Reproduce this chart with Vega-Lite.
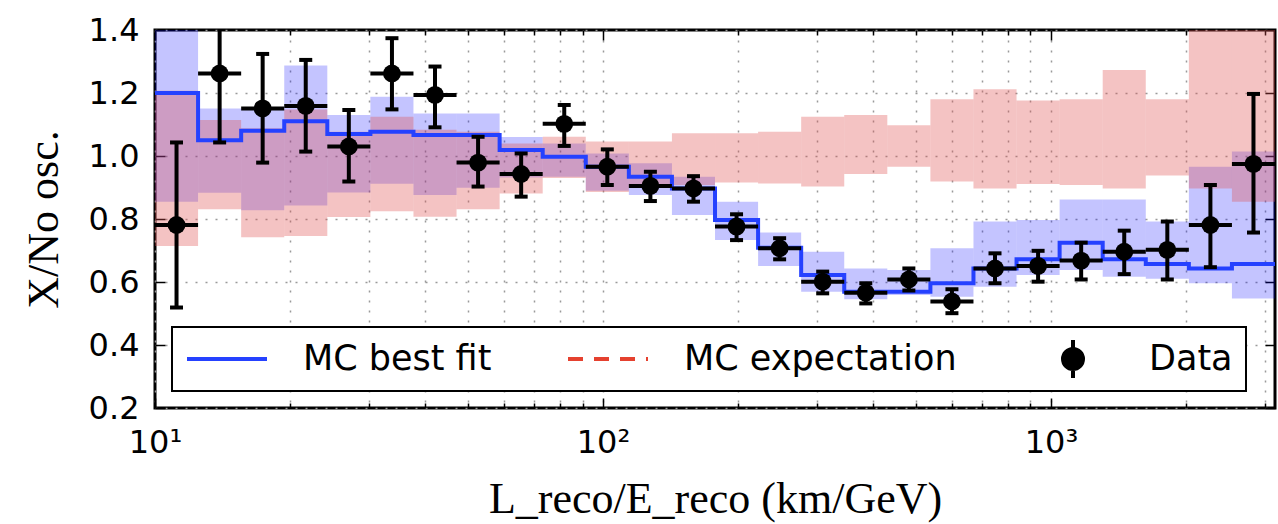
{
  "$schema": "https://vega.github.io/schema/vega-lite/v6.json",
  "autosize": {"type": "none"},
  "padding": {"left": 155, "top": 30, "right": 3, "bottom": 116},
  "width": 1120,
  "height": 378,
  "background": "white",
  "config": {
    "view": {"stroke": "black", "strokeWidth": 3},
    "axis": {
      "domain": false,
      "grid": true,
      "gridColor": "#9a9a9a",
      "gridDash": [2, 8],
      "gridWidth": 1.5,
      "tickColor": "black",
      "tickWidth": 1.5,
      "labelFont": "DejaVu Sans",
      "labelFontSize": 32,
      "labelColor": "black",
      "titleFont": "Liberation Serif",
      "titleFontSize": 44,
      "titleFontWeight": "normal",
      "titleColor": "black"
    }
  },
  "datasets": {
    "bins": [
      {"lo": 10, "hi": 12.478, "c": 11.17, "bL": 0.855, "bU": 1.45, "rL": 0.714, "rU": 1.207, "d": 0.781, "dlo": 0.519, "dhi": 1.043},
      {"lo": 12.478, "hi": 15.571, "c": 13.94, "bL": 0.883, "bU": 1.151, "rL": 0.831, "rU": 1.114, "d": 1.262, "dlo": 1.043, "dhi": 1.42},
      {"lo": 15.571, "hi": 19.43, "c": 17.39, "bL": 0.828, "bU": 1.151, "rL": 0.742, "rU": 1.088, "d": 1.151, "dlo": 0.979, "dhi": 1.324},
      {"lo": 19.43, "hi": 24.245, "c": 21.7, "bL": 0.843, "bU": 1.287, "rL": 0.746, "rU": 1.148, "d": 1.159, "dlo": 1.014, "dhi": 1.305},
      {"lo": 24.245, "hi": 30.254, "c": 27.08, "bL": 0.884, "bU": 1.13, "rL": 0.806, "rU": 1.077, "d": 1.03, "dlo": 0.919, "dhi": 1.146},
      {"lo": 30.254, "hi": 37.752, "c": 33.8, "bL": 0.912, "bU": 1.188, "rL": 0.825, "rU": 1.125, "d": 1.262, "dlo": 1.148, "dhi": 1.374},
      {"lo": 37.752, "hi": 47.108, "c": 42.17, "bL": 0.876, "bU": 1.135, "rL": 0.807, "rU": 1.083, "d": 1.194, "dlo": 1.091, "dhi": 1.284},
      {"lo": 47.108, "hi": 58.783, "c": 52.62, "bL": 0.899, "bU": 1.135, "rL": 0.831, "rU": 1.077, "d": 0.979, "dlo": 0.903, "dhi": 1.061},
      {"lo": 58.783, "hi": 73.351, "c": 65.66, "bL": 0.932, "bU": 1.06, "rL": 0.881, "rU": 1.04, "d": 0.943, "dlo": 0.871, "dhi": 1.008},
      {"lo": 73.351, "hi": 91.529, "c": 81.94, "bL": 0.934, "bU": 1.04, "rL": 0.93, "rU": 1.061, "d": 1.102, "dlo": 1.032, "dhi": 1.162},
      {"lo": 91.529, "hi": 114.21, "c": 102.24, "bL": 0.89, "bU": 1.008, "rL": 0.886, "rU": 1.046, "d": 0.966, "dlo": 0.908, "dhi": 1.021},
      {"lo": 114.21, "hi": 142.52, "c": 127.58, "bL": 0.876, "bU": 0.977, "rL": 0.903, "rU": 1.046, "d": 0.905, "dlo": 0.857, "dhi": 0.95},
      {"lo": 142.52, "hi": 177.84, "c": 159.2, "bL": 0.813, "bU": 0.934, "rL": 0.908, "rU": 1.072, "d": 0.897, "dlo": 0.855, "dhi": 0.936},
      {"lo": 177.84, "hi": 221.91, "c": 198.66, "bL": 0.733, "bU": 0.855, "rL": 0.916, "rU": 1.072, "d": 0.776, "dlo": 0.733, "dhi": 0.815},
      {"lo": 221.91, "hi": 276.91, "c": 247.89, "bL": 0.651, "bU": 0.757, "rL": 0.913, "rU": 1.077, "d": 0.707, "dlo": 0.672, "dhi": 0.739},
      {"lo": 276.91, "hi": 345.53, "c": 309.32, "bL": 0.569, "bU": 0.696, "rL": 0.903, "rU": 1.125, "d": 0.601, "dlo": 0.564, "dhi": 0.633},
      {"lo": 345.53, "hi": 431.16, "c": 385.98, "bL": 0.545, "bU": 0.643, "rL": 0.943, "rU": 1.13, "d": 0.566, "dlo": 0.532, "dhi": 0.596},
      {"lo": 431.16, "hi": 538.02, "c": 481.63, "bL": 0.559, "bU": 0.638, "rL": 0.966, "rU": 1.098, "d": 0.608, "dlo": 0.573, "dhi": 0.643},
      {"lo": 538.02, "hi": 671.35, "c": 601.0, "bL": 0.553, "bU": 0.707, "rL": 0.919, "rU": 1.18, "d": 0.538, "dlo": 0.501, "dhi": 0.577},
      {"lo": 671.35, "hi": 837.73, "c": 749.9, "bL": 0.585, "bU": 0.792, "rL": 0.897, "rU": 1.212, "d": 0.643, "dlo": 0.596, "dhi": 0.691},
      {"lo": 837.73, "hi": 1045.3, "c": 935.8, "bL": 0.622, "bU": 0.797, "rL": 0.911, "rU": 1.176, "d": 0.651, "dlo": 0.601, "dhi": 0.699},
      {"lo": 1045.3, "hi": 1304.4, "c": 1167.7, "bL": 0.638, "bU": 0.862, "rL": 0.908, "rU": 1.18, "d": 0.668, "dlo": 0.608, "dhi": 0.725},
      {"lo": 1304.4, "hi": 1627.7, "c": 1457.1, "bL": 0.617, "bU": 0.862, "rL": 0.897, "rU": 1.273, "d": 0.696, "dlo": 0.625, "dhi": 0.763},
      {"lo": 1627.7, "hi": 2031.1, "c": 1818.2, "bL": 0.61, "bU": 0.792, "rL": 0.938, "rU": 1.18, "d": 0.702, "dlo": 0.608, "dhi": 0.792},
      {"lo": 2031.1, "hi": 2534.4, "c": 2268.9, "bL": 0.596, "bU": 0.966, "rL": 0.897, "rU": 1.45, "d": 0.781, "dlo": 0.647, "dhi": 0.908},
      {"lo": 2534.4, "hi": 3162.3, "c": 2831.1, "bL": 0.548, "bU": 1.014, "rL": 0.855, "rU": 1.45, "d": 0.975, "dlo": 0.757, "dhi": 1.197}
    ],
    "step": [
      {"e": 10, "mc": 1.2}, {"e": 12.478, "mc": 1.05}, {"e": 15.571, "mc": 1.08}, {"e": 19.43, "mc": 1.11},
      {"e": 24.245, "mc": 1.07}, {"e": 30.254, "mc": 1.077}, {"e": 37.752, "mc": 1.067}, {"e": 47.108, "mc": 1.067},
      {"e": 58.783, "mc": 1.019}, {"e": 73.351, "mc": 0.998}, {"e": 91.529, "mc": 0.966}, {"e": 114.21, "mc": 0.934},
      {"e": 142.52, "mc": 0.897}, {"e": 177.84, "mc": 0.797}, {"e": 221.91, "mc": 0.709}, {"e": 276.91, "mc": 0.622},
      {"e": 345.53, "mc": 0.569}, {"e": 431.16, "mc": 0.569}, {"e": 538.02, "mc": 0.596}, {"e": 671.35, "mc": 0.643},
      {"e": 837.73, "mc": 0.672}, {"e": 1045.3, "mc": 0.725}, {"e": 1304.4, "mc": 0.672}, {"e": 1627.7, "mc": 0.657},
      {"e": 2031.1, "mc": 0.643}, {"e": 2534.4, "mc": 0.657}, {"e": 3162.3, "mc": 0.657}
    ]
  },
  "resolve": {"axis": {"x": "independent", "y": "independent"}},
  "layer": [
    {
      "data": {"name": "bins"},
      "mark": {"type": "rect", "fill": "#0000ff", "opacity": 0.23, "clip": true},
      "encoding": {
        "x": {
          "field": "lo", "type": "quantitative",
          "scale": {"type": "log", "domain": [10, 3162.3], "nice": false},
          "axis": {
            "orient": "bottom",
            "values": [10, 20, 30, 40, 50, 60, 70, 80, 90, 100, 200, 300, 400, 500, 600, 700, 800, 900, 1000, 2000, 3000],
            "labelExpr": "datum.value == 10 ? '10¹' : datum.value == 100 ? '10²' : datum.value == 1000 ? '10³' : ''",
            "tickSize": {"condition": {"test": "datum.value == 10 || datum.value == 100 || datum.value == 1000", "value": -10}, "value": -5},
            "labelPadding": 29,
            "labelFlush": false,
            "labelOverlap": false,
            "title": "L_reco/E_reco (km/GeV)",
            "titlePadding": 14
          }
        },
        "x2": {"field": "hi"},
        "y": {
          "field": "bL", "type": "quantitative",
          "scale": {"domain": [0.2, 1.4], "nice": false, "zero": false},
          "axis": {
            "orient": "left",
            "values": [0.2, 0.4, 0.6, 0.8, 1.0, 1.2, 1.4],
            "format": ".1f",
            "tickSize": -10,
            "labelPadding": 26,
            "title": "X/No osc.",
            "titlePadding": 22
          }
        },
        "y2": {"field": "bU"}
      }
    },
    {
      "data": {"name": "bins"},
      "mark": {"type": "rect", "fill": "#e05050", "opacity": 0.34, "clip": true},
      "encoding": {
        "x": {"field": "lo", "type": "quantitative", "axis": null},
        "x2": {"field": "hi"},
        "y": {"field": "rL", "type": "quantitative", "axis": null},
        "y2": {"field": "rU"}
      }
    },
    {
      "data": {"name": "step"},
      "mark": {"type": "line", "interpolate": "step-after", "strokeWidth": 4, "clip": true},
      "encoding": {
        "x": {
          "field": "e", "type": "quantitative",
          "scale": {"type": "log", "domain": [10, 3162.3], "nice": false},
          "axis": {
            "orient": "top",
            "values": [10, 20, 30, 40, 50, 60, 70, 80, 90, 100, 200, 300, 400, 500, 600, 700, 800, 900, 1000, 2000, 3000],
            "labels": false,
            "grid": false,
            "tickSize": {"condition": {"test": "datum.value == 10 || datum.value == 100 || datum.value == 1000", "value": -10}, "value": -5},
            "title": null
          }
        },
        "y": {
          "field": "mc", "type": "quantitative",
          "scale": {"domain": [0.2, 1.4], "nice": false, "zero": false},
          "axis": {
            "orient": "right",
            "values": [0.2, 0.4, 0.6, 0.8, 1.0, 1.2, 1.4],
            "labels": false,
            "grid": false,
            "tickSize": -10,
            "title": null
          }
        },
        "color": {
          "datum": "MC best fit",
          "type": "nominal",
          "scale": {"domain": ["MC best fit", "MC expectation", "Data"], "range": ["#2541ff", "#e5412f", "#000000"]},
          "legend": {
            "title": null,
            "orient": "bottom-left",
            "offset": 17,
            "direction": "horizontal",
            "columns": 3,
            "columnPadding": 74,
            "padding": 13,
            "clipHeight": 38,
            "fillColor": "white",
            "strokeColor": "black",
            "labelFont": "DejaVu Sans",
            "labelFontSize": 35,
            "labelLimit": 500,
            "labelColor": "black",
            "labelOffset": 34,
            "symbolSize": 6400,
            "symbolStrokeWidth": 4,
            "symbolType": "stroke",
            "encode": {
              "legend": {"update": {"strokeWidth": {"value": 2}}},
              "symbols": {
                "update": {
                  "shape": {"signal": "datum.value === 'Data' ? 'M0,-0.56V0.56M-0.17,-0.56H0.17M-0.17,0.56H0.17M-0.25,0A0.25,0.25,0,1,0,0.25,0A0.25,0.25,0,1,0,-0.25,0Z' : 'stroke'"},
                  "fill": {"signal": "datum.value === 'Data' ? 'black' : 'transparent'"},
                  "stroke": {"signal": "datum.value === 'Data' ? 'black' : datum.value === 'MC expectation' ? '#e5412f' : '#2541ff'"},
                  "strokeDash": {"signal": "datum.value === 'MC expectation' ? [15, 11] : []"},
                  "strokeWidth": {"value": 4}
                }
              }
            }
          }
        }
      }
    },
    {
      "mark": {"type": "rule", "strokeWidth": 4, "strokeDash": [14, 17]},
      "encoding": {
        "y": {"datum": 1.0, "type": "quantitative", "axis": null},
        "color": {"datum": "MC expectation", "type": "nominal"}
      }
    },
    {
      "data": {"name": "bins"},
      "mark": {"type": "rule", "strokeWidth": 4, "color": "black", "clip": true},
      "encoding": {
        "x": {"field": "lo", "type": "quantitative", "axis": null},
        "x2": {"field": "hi"},
        "y": {"field": "d", "type": "quantitative", "axis": null}
      }
    },
    {
      "data": {"name": "bins"},
      "mark": {"type": "rule", "strokeWidth": 4, "color": "black", "clip": true},
      "encoding": {
        "x": {"field": "c", "type": "quantitative", "axis": null},
        "y": {"field": "dlo", "type": "quantitative", "axis": null},
        "y2": {"field": "dhi"}
      }
    },
    {
      "data": {"name": "bins"},
      "mark": {"type": "tick", "orient": "horizontal", "size": 13, "thickness": 4, "color": "black", "opacity": 1, "clip": true},
      "encoding": {
        "x": {"field": "c", "type": "quantitative", "axis": null},
        "y": {"field": "dlo", "type": "quantitative", "axis": null}
      }
    },
    {
      "data": {"name": "bins"},
      "mark": {"type": "tick", "orient": "horizontal", "size": 13, "thickness": 4, "color": "black", "opacity": 1, "clip": true},
      "encoding": {
        "x": {"field": "c", "type": "quantitative", "axis": null},
        "y": {"field": "dhi", "type": "quantitative", "axis": null}
      }
    },
    {
      "data": {"name": "bins"},
      "mark": {"type": "point", "filled": true, "size": 320, "opacity": 1, "shape": "circle"},
      "encoding": {
        "x": {"field": "c", "type": "quantitative", "axis": null},
        "y": {"field": "d", "type": "quantitative", "axis": null},
        "color": {"datum": "Data", "type": "nominal"}
      }
    },
    {
      "mark": {"type": "text", "align": "left", "baseline": "middle", "font": "DejaVu Sans", "fontStyle": "italic", "fontSize": 33, "color": "#333333"},
      "encoding": {
        "x": {"datum": 14.85, "type": "quantitative", "axis": null},
        "y": {"datum": 0.587, "type": "quantitative", "axis": null},
        "text": {"value": "IceCube Preliminary"}
      }
    }
  ]
}
